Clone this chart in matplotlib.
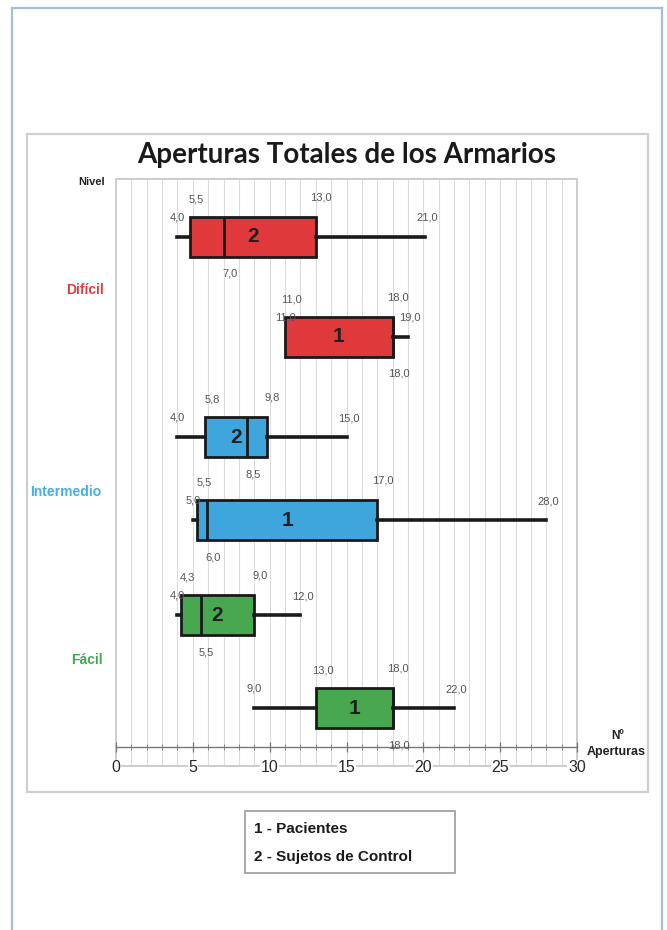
import matplotlib
matplotlib.use("Agg")
import matplotlib.pyplot as plt
from matplotlib.patches import Rectangle
import numpy as np

# ---------------- data ----------------
niveles = ["Difícil", "Intermedio", "Fácil"]
nivel_colores = ["#e23b3b", "#45aee3", "#45a651"]
grupos = ["2", "1", "2", "1", "2", "1"]          # rows top -> bottom
fill = ["#e0393b", "#e0393b", "#3fa6dd", "#3fa6dd", "#48a84f", "#48a84f"]
whislo = [4.0, 11.0, 4.0, 5.0, 4.0, 9.0]
q1 = [4.8, 11.0, 5.8, 5.3, 4.2, 13.0]
med = [7.0, 18.0, 8.5, 5.9, 5.5, 18.0]
q3 = [13.0, 18.0, 9.8, 17.0, 9.0, 18.0]
whishi = [20.1, 19.0, 15.0, 28.0, 12.0, 22.0]

lbl_min = ["4,0", "11,0", "4,0", "5,0", "4,0", "9,0"]
lbl_q1 = ["5,5", "11,0", "5,8", "5,5", "4,3", "13,0"]
lbl_q3 = ["13,0", "18,0", "9,8", "17,0", "9,0", "18,0"]
lbl_max = ["21,0", "19,0", "15,0", "28,0", "12,0", "22,0"]
lbl_med = ["7,0", "18,0", "8,5", "6,0", "5,5", "18,0"]

xticks = [0, 5, 10, 15, 20, 25, 30]
leyenda = ["1 - Pacientes", "2 - Sujetos de Control"]
titulo = "Aperturas Totales de los Armarios"

# ---------------- layout ----------------
W, H = 667, 930
fig = plt.figure(figsize=(W / 100, H / 100), dpi=100)
fig.patch.set_facecolor("white")

# overlay axes in pixel coordinates
ov = fig.add_axes([0, 0, 1, 1])
ov.set_xlim(0, W)
ov.set_ylim(H, 0)
ov.axis("off")

border_col = "#a3bfd2"
ov.plot([12, 12], [8, H], color=border_col, lw=1.6)
ov.plot([12, 662], [8, 8], color=border_col, lw=1.6)
ov.plot([662, 662], [8, H], color=border_col, lw=1.6)
ov.add_patch(Rectangle((27, 134), 621, 658, fill=False, ec="#cfcfcf", lw=1.6))

ov.text(347, 155, titulo, fontsize=20, fontweight="bold", family="Lato",
        ha="center", va="center", color="#1a1a1a")
ov.text(92, 182, "Nivel", fontsize=8, fontweight="bold", family="Liberation Sans",
        ha="center", va="center", color="#222")
for name, col, ypx, xpx in zip(niveles, nivel_colores, [290, 492, 660], [85, 66, 87]):
    ov.text(xpx, ypx, name, fontsize=10, fontweight="bold", family="Liberation Sans",
            ha="center", va="center", color=col)
ov.text(618, 736, "Nº", fontsize=8.5, fontweight="bold", family="Liberation Sans",
        ha="center", va="center", color="#222")
ov.text(616, 752, "Aperturas", fontsize=9, fontweight="bold", family="Liberation Sans",
        ha="center", va="center", color="#222")

# legend box
ov.add_patch(Rectangle((245, 811), 210, 62, fc="white", ec="#9a9a9a", lw=1.2))
for i, t in enumerate(leyenda):
    ov.text(254, 829 + 28 * i, t, fontsize=11, fontweight="bold",
            family="Liberation Sans", ha="left", va="center", color="#1a1a1a")

# main axes: frame spans px x 116..577, y 179..766
L, R, T, B = 116, 577, 179, 766
ax = fig.add_axes([L / W, (H - B) / H, (R - L) / W, (B - T) / H])
ax.set_zorder(2)
ax.set_xlim(0, 30)
ax.set_ylim(0, B - T)
ax.set_facecolor("white")

centers = [766 - p for p in [237, 337, 437, 520, 615, 708]]
axis_y = 766 - 747

stats = []
for i in range(len(grupos)):
    stats.append(dict(med=med[i], q1=q1[i], q3=q3[i], whislo=whislo[i],
                      whishi=whishi[i], fliers=[], label=grupos[i]))

kw = dict(positions=centers, widths=40, patch_artist=True, showcaps=False,
          showfliers=False,
          boxprops=dict(edgecolor="#1a1a1a", linewidth=2.0),
          whiskerprops=dict(color="#1a1a1a", linewidth=2.6),
          medianprops=dict(color="#1a1a1a", linewidth=2.0),
          manage_ticks=False)
try:
    res = ax.bxp(stats, orientation="horizontal", **kw)
except TypeError:
    res = ax.bxp(stats, vert=False, **kw)
for patch, c in zip(res["boxes"], fill):
    patch.set_facecolor(c)
    patch.set_zorder(3)
for ln in res["whiskers"] + res["medians"]:
    ln.set_zorder(3)

lab_kw = dict(fontsize=8, family="Liberation Sans", color="#555555",
              ha="center", va="center", zorder=5)
for i, y in enumerate(centers):
    ax.text((q1[i] + q3[i]) / 2, y, grupos[i], fontsize=15, fontweight="bold",
            family="Liberation Sans", ha="center", va="center", color="#1f1f1f", zorder=5)
    ax.text(whislo[i], y + 20, lbl_min[i], **lab_kw)
    ax.text(q1[i] + 0.45, y + 38, lbl_q1[i], **lab_kw)
    ax.text(q3[i] + 0.35, y + 40, lbl_q3[i], **lab_kw)
    ax.text(whishi[i] + 0.15, y + 19, lbl_max[i], **lab_kw)
    ax.text(med[i] + 0.4, y - 37, lbl_med[i], **lab_kw)

# grid
for v in range(1, 30):
    ax.axvline(v, color="#dcdcdc", lw=0.8, zorder=0)

# spines / axis
for s in ["top", "right", "left", "bottom"]:
    ax.spines[s].set_visible(False)
ax.add_patch(Rectangle((0, 0), 1, 1, transform=ax.transAxes, fill=False,
                       ec="#cccccc", lw=1.4, zorder=1, clip_on=False))
ax.spines["bottom"].set_visible(True)
ax.spines["bottom"].set_position(("data", axis_y))
ax.spines["bottom"].set_color("#777777")
ax.spines["bottom"].set_linewidth(1.0)
ax.spines["bottom"].set_zorder(2)
ax.set_yticks([])
ax.set_xticks(xticks)
ax.set_xticks(np.arange(0, 31, 1), minor=True)
ax.tick_params(axis="x", which="major", direction="inout", length=7, width=0.9,
               color="#777777", pad=6, labelsize=11.5, labelcolor="#2a2a2a")
ax.tick_params(axis="x", which="minor", direction="inout", length=5, width=0.7,
               color="#888888")
for lab in ax.get_xticklabels():
    lab.set_family("Liberation Sans")
    lab.set_bbox(dict(facecolor="white", edgecolor="none", pad=0.5))

fig.savefig("out.png", dpi=100, facecolor="white")
